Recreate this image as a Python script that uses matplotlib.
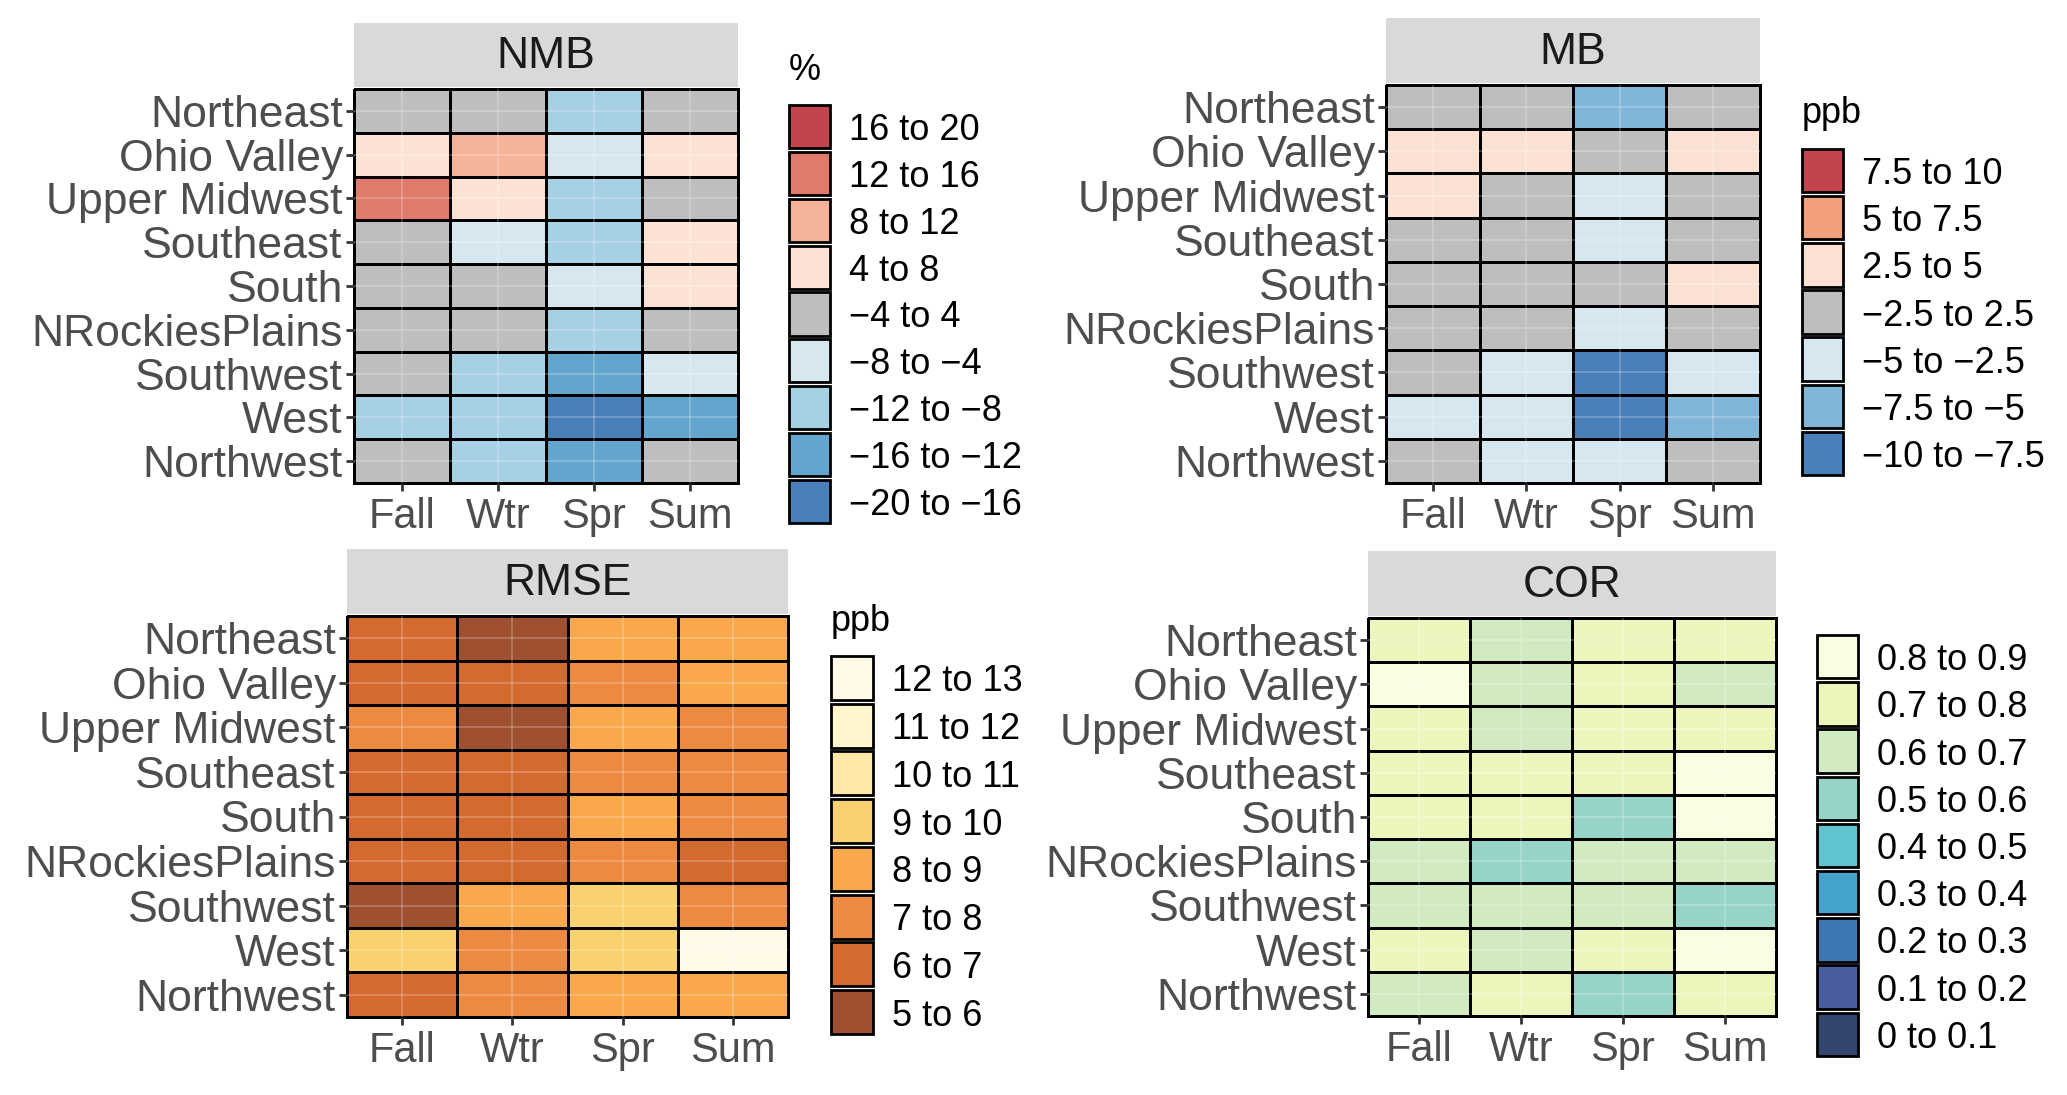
import numpy as np
import matplotlib
matplotlib.use("Agg")
import matplotlib.pyplot as plt
from matplotlib.colors import ListedColormap, BoundaryNorm

plt.rcParams['font.family'] = ['Liberation Sans', 'DejaVu Sans']

# ---------------- data ----------------
regions = ["Northeast", "Ohio Valley", "Upper Midwest", "Southeast", "South",
           "NRockiesPlains", "Southwest", "West", "Northwest"]
seasons = ["Fall", "Wtr", "Spr", "Sum"]

nmb_values = [
    [0, 0, -10, 0],
    [6, 10, -6, 6],
    [14, 6, -10, 0],
    [0, -6, -10, 6],
    [0, 0, -6, 6],
    [0, 0, -10, 0],
    [0, -10, -14, -6],
    [-10, -10, -18, -14],
    [0, -10, -14, 0],
]
nmb_bounds = [-20, -16, -12, -8, -4, 4, 8, 12, 16, 20]
nmb_labels = ["16 to 20", "12 to 16", "8 to 12", "4 to 8", "\u22124 to 4",
              "\u22128 to \u22124", "\u221212 to \u22128", "\u221216 to \u221212",
              "\u221220 to \u221216"]
nmb_colors = ["#c1444f", "#e07b6b", "#f5b39a", "#fce2d4", "#bebebe",
              "#d6e7f0", "#a6d0e4", "#63a6cd", "#4a80b9"]

mb_values = [
    [0, 0, -6, 0],
    [3.5, 3.5, 0, 3.5],
    [3.5, 0, -3.5, 0],
    [0, 0, -3.5, 0],
    [0, 0, 0, 3.5],
    [0, 0, -3.5, 0],
    [0, -3.5, -8.5, -3.5],
    [-3.5, -3.5, -8.5, -6],
    [0, -3.5, -3.5, 0],
]
mb_bounds = [-10, -7.5, -5, -2.5, 2.5, 5, 7.5, 10]
mb_labels = ["7.5 to 10", "5 to 7.5", "2.5 to 5", "\u22122.5 to 2.5",
             "\u22125 to \u22122.5", "\u22127.5 to \u22125", "\u221210 to \u22127.5"]
mb_colors = ["#c1444f", "#f29f7e", "#fbe1d3", "#bebebe", "#d6e7f0", "#82b6d8", "#4a80b9"]

rmse_values = [
    [6.5, 5.5, 8.5, 8.5],
    [6.5, 6.5, 7.5, 8.5],
    [7.5, 5.5, 8.5, 7.5],
    [6.5, 6.5, 7.5, 7.5],
    [6.5, 6.5, 8.5, 7.5],
    [6.5, 6.5, 7.5, 6.5],
    [5.5, 8.5, 9.5, 7.5],
    [9.5, 7.5, 9.5, 12.5],
    [6.5, 7.5, 8.5, 8.5],
]
rmse_bounds = [5, 6, 7, 8, 9, 10, 11, 12, 13]
rmse_labels = ["12 to 13", "11 to 12", "10 to 11", "9 to 10", "8 to 9",
               "7 to 8", "6 to 7", "5 to 6"]
rmse_colors = ["#fffbe8", "#fff5cf", "#fee8a5", "#fad16f", "#f9a84c",
               "#ed8a41", "#d36a2f", "#9e5030"]

cor_values = [
    [0.75, 0.65, 0.75, 0.75],
    [0.85, 0.65, 0.75, 0.65],
    [0.75, 0.65, 0.75, 0.75],
    [0.75, 0.75, 0.75, 0.85],
    [0.75, 0.75, 0.55, 0.85],
    [0.65, 0.55, 0.65, 0.65],
    [0.65, 0.65, 0.65, 0.55],
    [0.75, 0.65, 0.75, 0.85],
    [0.65, 0.75, 0.55, 0.75],
]
cor_bounds = [0, 0.1, 0.2, 0.3, 0.4, 0.5, 0.6, 0.7, 0.8, 0.9]
cor_labels = ["0.8 to 0.9", "0.7 to 0.8", "0.6 to 0.7", "0.5 to 0.6", "0.4 to 0.5",
              "0.3 to 0.4", "0.2 to 0.3", "0.1 to 0.2", "0 to 0.1"]
cor_colors = ["#fbfde2", "#edf5bd", "#d1eac2", "#96d4c7", "#61c3d0",
              "#46a3cb", "#3f77b5", "#4a5ca0", "#344670"]

# ---------------- figure ----------------
W, H = 2067, 1095
fig = plt.figure(figsize=(W / 100, H / 100), dpi=100)


def box(x0, y0, x1, y1):
    return [x0 / W, 1 - y1 / H, (x1 - x0) / W, (y1 - y0) / H]


def panel(values, bounds, colors_hi2lo, labels_hi2lo, title, legend_title,
          heat, strip_y, keys, title_base):
    cmap = ListedColormap(colors_hi2lo[::-1])
    norm = BoundaryNorm(bounds, cmap.N)
    data = np.array(values, dtype=float)
    nr, nc = data.shape

    ax = fig.add_axes(box(*heat))
    mesh = ax.pcolormesh(np.arange(nc + 1), np.arange(nr + 1), data, cmap=cmap,
                         norm=norm, edgecolors="black", linewidth=1.8)
    mesh.set_clip_on(False)
    ax.set_xlim(0, nc)
    ax.set_ylim(nr, 0)
    for c in range(nc):
        ax.axvline(c + 0.5, color="white", lw=1.2, alpha=0.25, zorder=3)
    for r in range(nr):
        ax.axhline(r + 0.5, color="white", lw=1.2, alpha=0.25, zorder=3)
    ax.set_xticks(np.arange(nc) + 0.5, seasons)
    ax.set_yticks(np.arange(nr) + 0.5, regions)
    ax.tick_params(axis="both", length=6, width=2, color="#333333",
                   labelcolor="#4d4d4d")
    ax.tick_params(axis="y", labelsize=32, pad=2)
    ax.tick_params(axis="x", labelsize=30, pad=4)
    for s in ax.spines.values():
        s.set_visible(False)

    # strip
    sx = fig.add_axes(box(heat[0], strip_y[0], heat[2], strip_y[1]))
    sx.set_facecolor("#d9d9d9")
    sx.set_xticks([])
    sx.set_yticks([])
    for s in sx.spines.values():
        s.set_visible(False)
    sx.text(0.5, 0.47, title, ha="center", va="center", fontsize=32,
            color="#1a1a1a", transform=sx.transAxes)

    # legend
    n = len(labels_hi2lo)
    bnd = np.array(bounds, dtype=float)
    mids = (bnd[:-1] + bnd[1:]) / 2
    lx = fig.add_axes(box(*keys))
    pos = np.arange(n)
    lx.barh(pos, np.ones(n), height=0.92, left=0,
            color=cmap(norm(mids[::-1])), edgecolor="black", linewidth=2,
            clip_on=False)
    lx.set_xlim(0, 1)
    lx.set_ylim(n - 0.5, -0.5)
    lx.yaxis.tick_right()
    lx.set_yticks(pos, labels_hi2lo)
    lx.set_xticks([])
    lx.tick_params(axis="y", length=0, pad=14, labelsize=26, labelcolor="black")
    for s in lx.spines.values():
        s.set_visible(False)
    if legend_title:
        fig.text(keys[0] / W, 1 - title_base / H, legend_title, fontsize=26,
                 color="black", ha="left", va="baseline")


panel(nmb_values, nmb_bounds, nmb_colors, nmb_labels, "NMB", "%",
      (354, 89, 738, 483), (23, 87), (789, 103, 830, 525), 80)
panel(mb_values, mb_bounds, mb_colors, mb_labels, "MB", "ppb",
      (1386, 85, 1760, 483), (18, 83), (1802, 147, 1843, 477), 123)
panel(rmse_values, rmse_bounds, rmse_colors, rmse_labels, "RMSE", "ppb",
      (347, 616, 788, 1017), (549, 614), (831, 654, 873, 1036), 631)
panel(cor_values, cor_bounds, cor_colors, cor_labels, "COR", None,
      (1368, 618, 1776, 1016), (551, 616), (1817, 633, 1858, 1058), 0)

fig.savefig("out.png", dpi=100, facecolor="white")
